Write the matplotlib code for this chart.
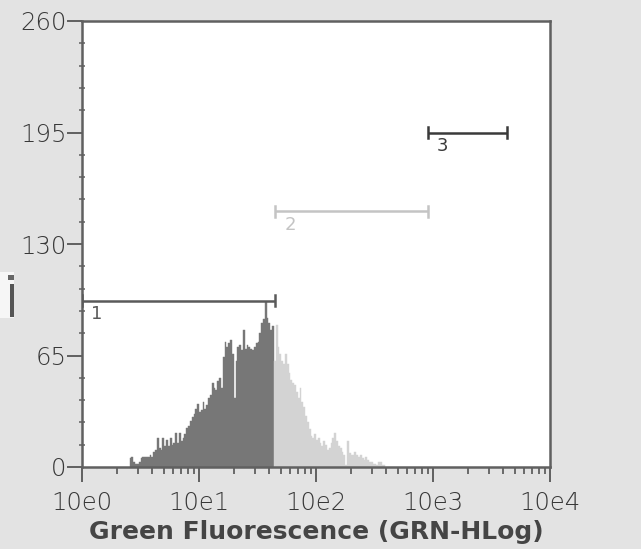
import numpy as np
import matplotlib
matplotlib.use("Agg")
import matplotlib.pyplot as plt
from matplotlib.ticker import FixedLocator, NullFormatter, LogLocator
from matplotlib.patches import Rectangle

# Histogram channels: 64 channels per decade over 10^0 .. 10^4
channels_per_decade = 64
first_channel = 26
counts = [
    5, 6, 3, 2, 2, 3, 5, 6, 6, 6,            # 26-35
    6, 7, 6, 9, 10, 17, 11, 10, 17, 12,      # 36-45
    16, 12, 17, 13, 14, 20, 14, 20, 15, 17,  # 46-55
    19, 23, 24, 27, 29, 31, 34, 37, 32, 33,  # 56-65
    38, 34, 36, 40, 42, 49, 46, 45, 50, 52,  # 66-75
    46, 64, 73, 70, 72, 74, 66, 40, 62, 70,  # 76-85
    71, 68, 80, 69, 71, 70, 69, 68, 70, 72,  # 86-95
    73, 78, 84, 86, 96, 87, 84, 80, 82, 62,  # 96-105
    83, 70, 66, 62, 60, 66, 60, 55, 51, 49,  # 106-115
    48, 44, 40, 46, 38, 35, 30, 26, 22, 18,  # 116-125
    17, 19, 16, 17, 14, 12, 15, 13, 10, 11,  # 126-135
    14, 17, 20, 15, 12, 11, 9, 7, 1, 15,     # 136-145
    8, 7, 7, 9, 7, 6, 7, 5, 4, 6,            # 146-155
    4, 3, 3, 2, 2, 1, 3, 3, 1, 1,            # 156-165
]

# Marker gates: (start, end, level, label)
gate_names = ["1", "2", "3"]
gate_start = [1.0, 45.0, 900.0]
gate_end = [45.0, 900.0, 4300.0]
gate_level = [97, 149, 195]
gate_colors = ["#5a5a5a", "#c4c4c4", "#3a3a3a"]

y_ticks = [0, 65, 130, 195, 260]
x_ticks = [1, 10, 100, 1000, 10000]
x_ticklabels = ["10e0", "10e1", "10e2", "10e3", "10e4"]
x_label = "Green Fluorescence (GRN-HLog)"

bg = "#e3e3e3"
dark_fill = "#777777"
light_fill = "#d3d3d3"
axis_col = "#606060"
text_col = "#383838"

fig = plt.figure(figsize=(6.41, 5.49), dpi=100, facecolor=bg)
W, H = 641, 549
ax = fig.add_axes([82 / W, (H - 467) / H, (550 - 82) / W, (467 - 21) / H])
ax.set_facecolor("white")

idx = np.arange(first_channel, first_channel + len(counts))
left = 10 ** (idx / channels_per_decade)
right = 10 ** ((idx + 1) / channels_per_decade)
vals = np.array(counts, dtype=float)
in_gate1 = right <= gate_end[0] + 1e-9
colors = [dark_fill if g else light_fill for g in in_gate1]
ax.bar(left, vals, width=right - left, align="edge", color=colors,
       edgecolor=colors, linewidth=0.3, zorder=2)

ax.set_xscale("log")
ax.set_xlim(1, 10000)
ax.set_ylim(0, 260)

# Gate markers with end caps and numbers
cap = 3.2
for name, s, e, lv, c in zip(gate_names, gate_start, gate_end, gate_level, gate_colors):
    ax.plot([s, e], [lv, lv], color=c, lw=1.8, zorder=4, solid_capstyle="butt")
    for xx in (s, e):
        ax.plot([xx, xx], [lv - cap, lv + cap], color=c, lw=1.8, zorder=4)
    ax.text(s * 1.2, lv - 2.5, name, color=c, fontsize=13, ha="left", va="top",
            family="DejaVu Sans", zorder=5)

for sp in ax.spines.values():
    sp.set_color(axis_col)
    sp.set_linewidth(1.8)

ax.xaxis.set_major_locator(FixedLocator(x_ticks))
ax.set_xticklabels(x_ticklabels)
ax.xaxis.set_minor_locator(LogLocator(base=10, subs=np.arange(2, 10), numticks=20))
ax.xaxis.set_minor_formatter(NullFormatter())
ax.yaxis.set_major_locator(FixedLocator(y_ticks))
ax.yaxis.set_minor_locator(FixedLocator(np.arange(0, 261, 13)))

ax.tick_params(axis="both", which="major", direction="out", length=11, width=1.4,
               color=axis_col, labelsize=17.5, labelcolor=text_col)
ax.tick_params(axis="x", which="major", pad=6)
ax.tick_params(axis="y", which="major", pad=0)
ax.tick_params(axis="x", which="minor", direction="out", length=5, width=1.3,
               color=axis_col)
ax.tick_params(axis="y", which="minor", direction="inout", length=5, width=1.1,
               color=axis_col)
for t in ax.get_xticklabels() + ax.get_yticklabels():
    t.set_family("DejaVu Sans")
    t.set_fontweight("light")

ax.set_xlabel(x_label, fontsize=18, fontweight="bold", color="#454545",
              family="DejaVu Sans", labelpad=4)

# clipped fragment of the vertical axis title at the far left
fig.patches.append(Rectangle((0, (H - 318) / H), 14 / W, 46 / H,
                             transform=fig.transFigure, facecolor="white",
                             edgecolor="none", alpha=0.7))
fig.patches.append(Rectangle((10 / W, (H - 317) / H), 4 / W, 33 / H,
                             transform=fig.transFigure, facecolor="#555555",
                             edgecolor="none"))
fig.patches.append(Rectangle((8 / W, (H - 280) / H), 6 / W, 5 / H,
                             transform=fig.transFigure, facecolor="#666666",
                             edgecolor="none"))

fig.savefig("out.png", dpi=100, facecolor=bg)
